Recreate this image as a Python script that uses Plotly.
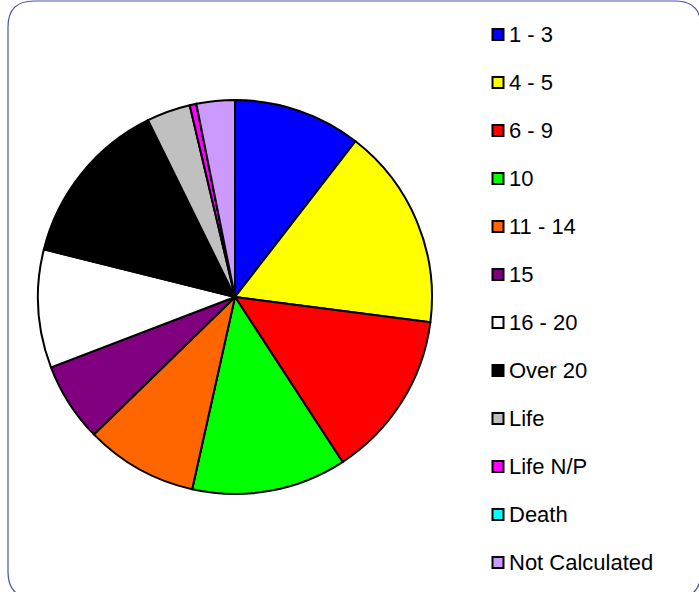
import plotly.graph_objects as go

W, H = 699, 592

categories = ["1 - 3", "4 - 5", "6 - 9", "10", "11 - 14", "15", "16 - 20",
              "Over 20", "Life", "Life N/P", "Death", "Not Calculated"]
values = [10.47, 16.56, 13.75, 12.67, 9.22, 6.47, 9.69, 13.83, 3.58, 0.55, 0.0, 3.14]
colors = ["#0000FF", "#FFFF00", "#FF0000", "#00FF00", "#FF6600", "#800080",
          "#FFFFFF", "#000000", "#C0C0C0", "#FF00FF", "#00FFFF", "#CC99FF"]

def px(x):
    return x / W

def py(y):
    return 1 - y / H

cx, cy, r = 235, 297, 197

fig = go.Figure(go.Pie(
    labels=categories,
    values=values,
    marker=dict(colors=colors, line=dict(color="black", width=2)),
    sort=False,
    direction="clockwise",
    rotation=0,
    textinfo="none",
    hoverinfo="label+percent",
    showlegend=False,
    domain=dict(x=[px(cx - r), px(cx + r)], y=[py(cy + r), py(cy - r)]),
))

shapes = []
# rounded border
x0, y0, x1, y1, rr = 8, 1, 701, 598, 26
path = (f"M {px(x0)},{py(y0 + rr)} "
        f"Q {px(x0)},{py(y0)} {px(x0 + rr)},{py(y0)} "
        f"L {px(x1 - rr)},{py(y0)} "
        f"Q {px(x1)},{py(y0)} {px(x1)},{py(y0 + rr)} "
        f"L {px(x1)},{py(y1 - rr)} "
        f"Q {px(x1)},{py(y1)} {px(x1 - rr)},{py(y1)} "
        f"L {px(x0 + rr)},{py(y1)} "
        f"Q {px(x0)},{py(y1)} {px(x0)},{py(y1 - rr)} Z")
shapes.append(dict(type="path", xref="paper", yref="paper", path=path,
                   line=dict(color="#5050A8", width=1.2)))

annotations = []
for i, (lab, col) in enumerate(zip(categories, colors)):
    yc = 34.5 + 48 * i
    shapes.append(dict(type="rect", xref="paper", yref="paper",
                       x0=px(492.5), x1=px(503.5), y0=py(yc + 5.5), y1=py(yc - 5.5),
                       fillcolor=col, line=dict(color="black", width=2)))
    annotations.append(dict(xref="paper", yref="paper", x=px(507), y=py(yc),
                            xanchor="left", yanchor="middle", text=lab,
                            showarrow=False,
                            font=dict(family="Arial, Liberation Sans", size=22, color="black")))

fig.update_layout(
    width=W, height=H,
    margin=dict(l=0, r=0, t=0, b=0),
    paper_bgcolor="white",
    plot_bgcolor="white",
    shapes=shapes,
    annotations=annotations,
    showlegend=False,
)

fig.write_html("out.html", config={"displayModeBar": False},
               post_script="document.body.style.margin='0';document.body.style.padding='0';")
